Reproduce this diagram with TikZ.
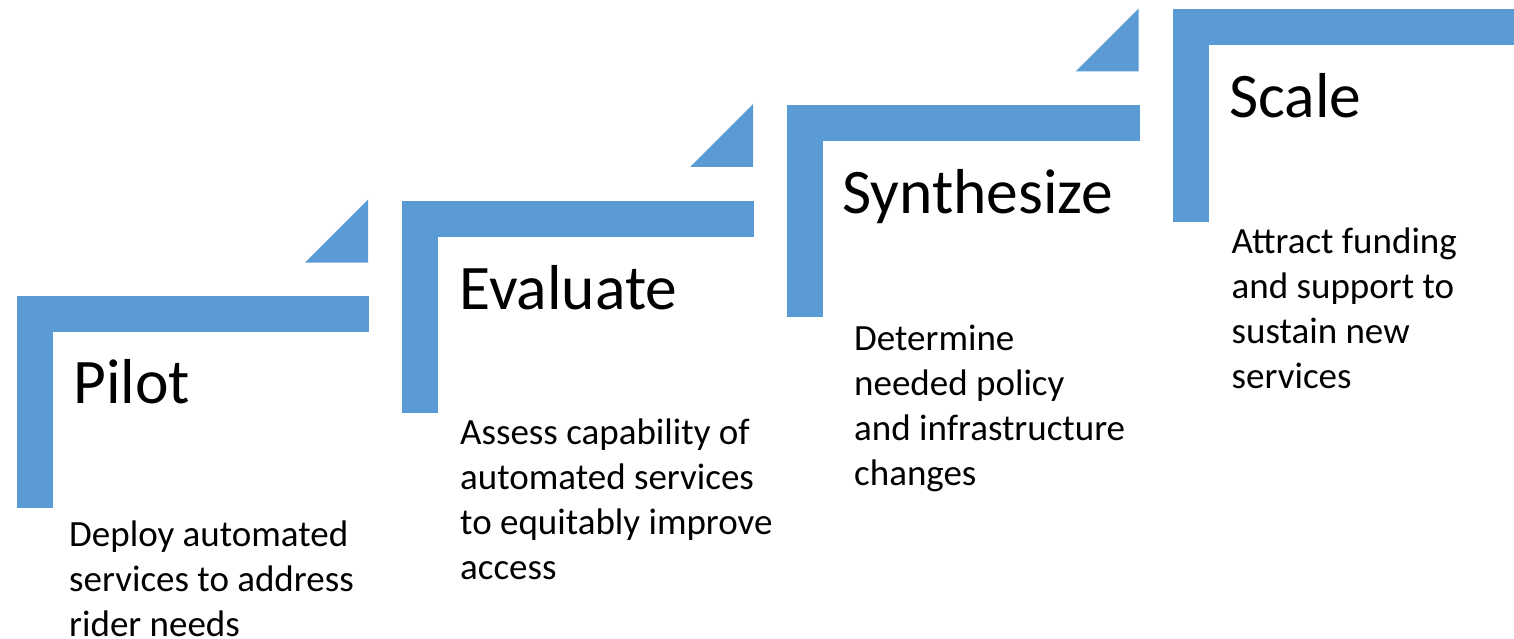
\documentclass[tikz,border=0pt]{standalone}
\usepackage{fontspec}
\setmainfont{Carlito}
\definecolor{stepblue}{HTML}{5B9BD5}
\begin{document}
\begin{tikzpicture}[x=1pt,y=-1pt,
  stepfill/.style={fill=stepblue},
  title/.style={anchor=base west, inner sep=0pt, font=\fontsize{63.5}{76}\selectfont},
  desc/.style={anchor=base west, inner sep=0pt, align=left, font=\fontsize{37}{45}\selectfont}]
\useasboundingbox (0,0) rectangle (1514,639);
% L-shaped steps
\foreach \x/\y/\len in {16.5/296/352, 401.5/200.5/352, 787/105/353, 1173/9.5/341} {
  \fill[stepfill] (\x,\y) rectangle ++(\len,36);
  \fill[stepfill] (\x,\y) rectangle ++(36,212);
}
% triangles
\foreach \x/\y in {16.5/296, 401.5/200.5, 787/105} {
  \fill[stepfill] (\x+351.5,\y-96.5) -- (\x+351.5,\y-33.5) -- (\x+288.5,\y-33.5) -- cycle;
}
% titles
\node[title] (pilot) at (73,403) {Pilot};
\node[title] (evaluate) at (459.5,309.3) {Evaluate};
\node[title] (synthesize) at (842,213.3) {Synthesize};
\node[title] (scale) at (1229,117.3) {Scale};
% descriptions (anchor = baseline of last line)
\node[desc] (pilotd) at (69,636.5) {Deploy automated\\services to address\\rider needs};
\node[desc] (evaluated) at (460,579) {Assess capability of\\automated services\\to equitably improve\\access};
\node[desc] (synthesized) at (854,485) {Determine\\needed policy\\and infrastructure\\changes};
\node[desc] (scaled) at (1231.5,388) {Attract funding\\and support to\\sustain new\\services};
\end{tikzpicture}
\end{document}
